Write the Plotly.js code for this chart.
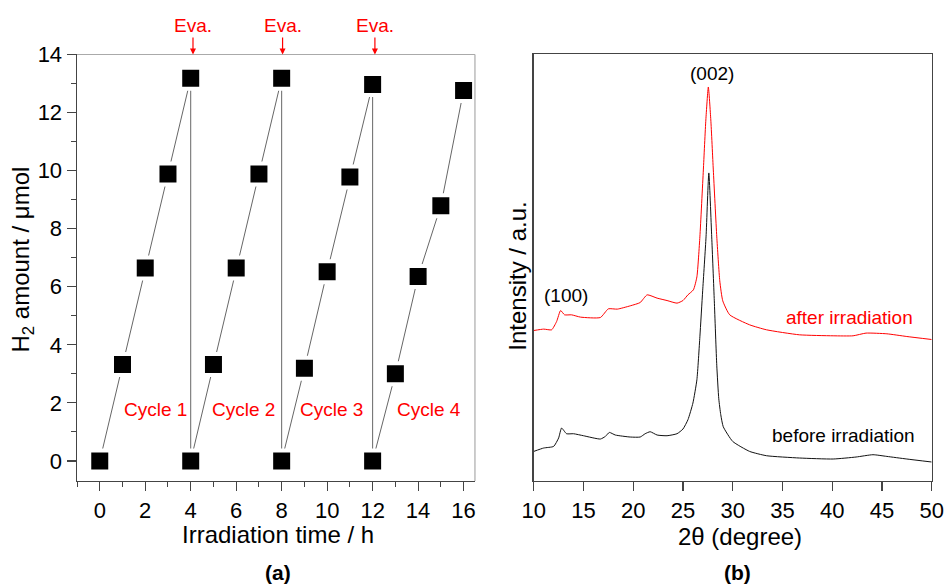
<!DOCTYPE html>
<html>
<head>
<meta charset="utf-8">
<script src="https://cdn.plot.ly/plotly-3.0.1.min.js"></script>
<style>html,body{margin:0;padding:0;background:#fff;}#chart{width:945px;height:586px;}</style>
</head>
<body>
<div id="chart"></div>
<script>
// Panel (a): H2 evolution cycles
var timeH = [0,1,2,3,4, 4,5,6,7,8, 8,9,10,11,12, 12,13,14,15,16];
var h2Amount = [0,3.32,6.65,9.88,13.18, 0,3.32,6.65,9.88,13.18, 0,3.19,6.52,9.78,12.97, 0,3.0,6.35,8.79,12.76];
var evaTimes = [4.1, 8.04, 12.1];
var cycleLabels = ["Cycle 1","Cycle 2","Cycle 3","Cycle 4"];
var cycleLabelX = [2.45, 6.3, 10.2, 14.5];

// Panel (b): XRD patterns (arbitrary units)
var twoThetaBefore = [10,11,12,12.5,12.8,13.3,14,15,16.7,17.2,17.6,18.2,19.7,20.7,21.2,21.7,22.4,23.4,24.4,25,25.5,26,26.4,26.7,26.98,27.32,27.6,27.89,28.15,28.4,28.6,28.8,29.05,30,31.7,33.4,36.7,40.1,42.4,44.1,45.5,47.5,50];
var intensityBefore = [29.3,32.7,34.3,42.7,52.7,47,47,45,41.7,44.3,48.3,45.7,43.7,43.7,47,49,45.7,45,47,51.7,61,77.7,101,144,190,244,308,244,180,115,82,66,54,39.3,29.3,25,22.7,21.7,23.7,26,24.3,21.7,18.7];
var twoThetaAfter = [10,11,11.8,12.3,12.7,13.1,13.8,14.7,16.7,17.5,18.4,19.7,20.7,21.4,22.4,23.4,24.4,25,25.5,26.05,26.4,26.7,27.05,27.3,27.55,27.8,28.05,28.4,28.7,29.0,29.7,31.7,33.4,36.7,40.1,42.1,43.4,45.5,47.5,50];
var intensityAfter = [150.3,151.7,151,159.3,170.3,166,166,163.7,163.3,172,171.7,175,178.3,186,182.7,180.3,177.7,180.3,186,191,204,244,311,361,394,361,311,244,200,180,166,156,151,146,145,145,147.7,147,144.3,141.3];
var xrdTicks = [10,15,20,25,30,35,40,45,50];

var FONT = "Liberation Sans, Arial, sans-serif";
var AXC = "#444";

var traces = [
  {x: timeH, y: h2Amount, xaxis: 'x', yaxis: 'y', type: 'scatter', mode: 'lines+markers',
   line: {color: '#666', width: 1},
   marker: {symbol: 'square', size: 21, color: '#000', line: {color: '#fff', width: 4}},
   cliponaxis: false, showlegend: false, hoverinfo: 'skip'},
  {x: twoThetaAfter, y: intensityAfter, xaxis: 'x2', yaxis: 'y2', type: 'scatter', mode: 'lines',
   line: {color: '#ff0000', width: 1, shape: 'spline', smoothing: 0.5}, showlegend: false, hoverinfo: 'skip'},
  {x: twoThetaBefore, y: intensityBefore, xaxis: 'x2', yaxis: 'y2', type: 'scatter', mode: 'lines',
   line: {color: '#111', width: 1, shape: 'spline', smoothing: 0.5}, showlegend: false, hoverinfo: 'skip'}
];

var annotations = [];
evaTimes.forEach(function(t){
  annotations.push({xref:'x', yref:'y', x:t, y:14, text:'Eva.', showarrow:true, ax:0, ay:-29,
    arrowcolor:'#ff0000', arrowhead:2, arrowsize:1, arrowwidth:1.2, standoff:0,
    font:{family:FONT, size:19, color:'#ff0000'}});
});
cycleLabels.forEach(function(c, i){
  annotations.push({xref:'x', yref:'y', x:cycleLabelX[i], y:1.76, text:c, showarrow:false,
    xanchor:'center', yanchor:'middle', font:{family:FONT, size:19, color:'#ff0000'}});
});
annotations.push({xref:'x2', yref:'y2', x:27.95, y:408, text:'(002)', showarrow:false,
  font:{family:FONT, size:19, color:'#000'}});
annotations.push({xref:'x2', yref:'y2', x:13.25, y:185, text:'(100)', showarrow:false,
  font:{family:FONT, size:19, color:'#000'}});
annotations.push({xref:'x2', yref:'y2', x:41.7, y:163.7, text:'after irradiation', showarrow:false,
  font:{family:FONT, size:19, color:'#ff0000'}});
annotations.push({xref:'x2', yref:'y2', x:41.1, y:45.3, text:'before irradiation', showarrow:false,
  font:{family:FONT, size:19, color:'#000'}});
// axis titles and panel labels
annotations.push({xref:'paper', yref:'paper', x:0.2942, y:0.0887, text:'Irradiation time / h', showarrow:false,
  xanchor:'center', yanchor:'middle', font:{family:FONT, size:24, color:'#000'}});
annotations.push({xref:'paper', yref:'paper', x:0.0243, y:0.557, text:'H<sub>2</sub> amount / μmol', showarrow:false,
  textangle:-90, xanchor:'center', yanchor:'middle', font:{family:FONT, size:24, color:'#000'}});
annotations.push({xref:'paper', yref:'paper', x:0.783, y:0.0853, text:'2θ (degree)', showarrow:false,
  xanchor:'center', yanchor:'middle', font:{family:FONT, size:24, color:'#000'}});
annotations.push({xref:'paper', yref:'paper', x:0.5468, y:0.529, text:'Intensity / a.u.', showarrow:false,
  textangle:-90, xanchor:'center', yanchor:'middle', font:{family:FONT, size:24, color:'#000'}});
annotations.push({xref:'paper', yref:'paper', x:0.2942, y:0.0222, text:'<b>(a)</b>', showarrow:false,
  xanchor:'center', yanchor:'middle', font:{family:FONT, size:21, color:'#000'}});
annotations.push({xref:'paper', yref:'paper', x:0.7799, y:0.0222, text:'<b>(b)</b>', showarrow:false,
  xanchor:'center', yanchor:'middle', font:{family:FONT, size:21, color:'#000'}});

var layout = {
  width: 945, height: 586,
  margin: {l:0, r:0, t:0, b:0},
  paper_bgcolor: '#fff', plot_bgcolor: '#fff',
  font: {family: FONT, color: '#000'},
  showlegend: false,
  xaxis: {domain:[0.0815, 0.5026], range:[-1, 16.5], anchor:'y', automargin:false,
    tickvals:[0,2,4,6,8,10,12,14,16], ticks:'outside', ticklen:9, tickwidth:1.2, tickcolor:AXC,
    showline:true, linecolor:AXC, linewidth:1.5, showgrid:false, zeroline:false,
    tickfont:{family:FONT, size:22, color:'#000'},
    minor:{dtick:1, tick0:0, ticks:'outside', ticklen:5, tickcolor:AXC, tickwidth:1, showgrid:false}},
  yaxis: {domain:[0.1792, 0.907], range:[-0.69, 14], anchor:'x', automargin:false,
    tickvals:[0,2,4,6,8,10,12,14], ticks:'outside', ticklen:9, tickwidth:1.2, tickcolor:AXC,
    showline:true, linecolor:AXC, linewidth:1.5, showgrid:false, zeroline:false,
    tickfont:{family:FONT, size:22, color:'#000'},
    minor:{dtick:1, tick0:0, ticks:'outside', ticklen:5, tickcolor:AXC, tickwidth:1, showgrid:false}},
  xaxis2: {domain:[0.5648, 0.9859], range:[10, 50], anchor:'y2', automargin:false,
    tickvals:xrdTicks, ticks:'outside', ticklen:9, tickwidth:1.2, tickcolor:AXC,
    showline:true, mirror:true, linecolor:AXC, linewidth:1.5, showgrid:false, zeroline:false,
    tickfont:{family:FONT, size:22, color:'#000'}},
  yaxis2: {domain:[0.1797, 0.9078], range:[0, 427], anchor:'x2', automargin:false,
    showticklabels:false, ticks:'', showline:true, mirror:true, linecolor:AXC, linewidth:1.5,
    showgrid:false, zeroline:false},
  shapes: [
    {type:'line', xref:'x domain', yref:'y domain', x0:0, x1:1, y0:1, y1:1, line:{color:'#aaa', width:1.2}},
    {type:'line', xref:'x domain', yref:'y domain', x0:1, x1:1, y0:0, y1:1, line:{color:'#aaa', width:1.2}}
  ],
  annotations: annotations
};

Plotly.newPlot('chart', traces, layout, {staticPlot:true, displayModeBar:false});
</script>
</body>
</html>
